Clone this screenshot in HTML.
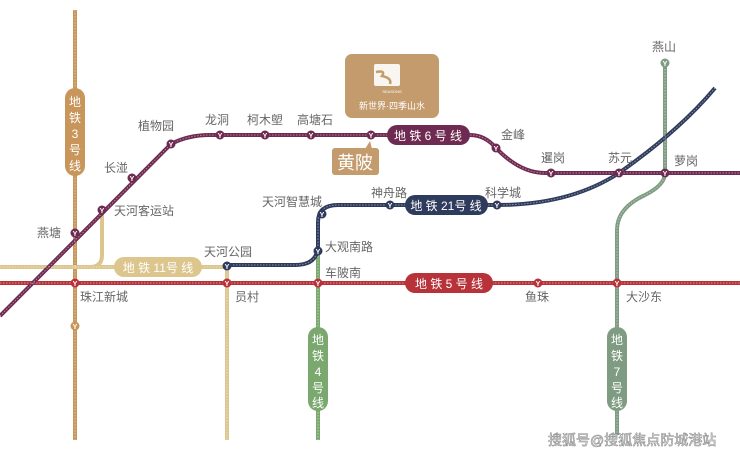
<!DOCTYPE html>
<html><head><meta charset="utf-8"><style>
body{margin:0;background:#fff;}
svg{display:block;font-family:"Liberation Sans","Noto Sans CJK SC",sans-serif;}
.l{font-size:12px;fill:#666;}
.p{font-size:12px;fill:#fff;}
</style></head><body>
<svg width="740" height="457" viewBox="0 0 740 457">
<defs>
<g id="st"><circle r="4.5"/><text y="3" text-anchor="middle" font-size="7" fill="#fff" font-weight="bold">Y</text></g>
</defs>
<g fill="none" stroke-width="4">
<!-- line 3 -->
<path d="M75 10V440" stroke="#c8955a"/>
<!-- line 11 -->
<path d="M0 267H227" stroke="#dcc68e"/>
<path d="M102 210V255Q102 267 90 267H75" stroke="#dcc68e"/>
<path d="M227 267V440" stroke="#dcc68e"/>
<!-- line 4 -->
<path d="M318 250V440" stroke="#7aa86e"/>
<!-- line 7 -->
<path d="M665 63V173Q665 185 645 195Q617 208 617 230V435" stroke="#7f9c82"/>
<!-- line 5 -->
<path d="M0 283H740" stroke="#b8323a"/>
<!-- line 21 -->
<path d="M227 265H295Q318 265 318 245V222Q318 205 338 205H497Q570 205 619 173Q680 130 715 88" stroke="#2f3b5c"/>
<!-- line 6 -->
<path d="M0 316L171 144Q188 135 210 135H470Q485 135 496 148Q520 173 545 173H740" stroke="#6e2a50"/>
</g>
<g fill="none" stroke="#fff" stroke-opacity=".45" stroke-width="1" stroke-dasharray="1.5 1.5">
<path d="M75 10V440"/><path d="M0 267H227"/><path d="M227 267V440"/><path d="M318 250V440"/>
<path d="M665 63V173Q665 185 645 195Q617 208 617 230V435"/><path d="M0 283H740"/>
<path d="M227 265H295Q318 265 318 245V222Q318 205 338 205H497Q570 205 619 173Q680 130 715 88"/>
<path d="M0 316L171 144Q188 135 210 135H470Q485 135 496 148Q520 173 545 173H740"/>
</g>
<!-- pills -->
<rect x="65" y="88" width="20" height="88" rx="10" fill="#c8955a"/>
<text class="p" x="75" y="106" text-anchor="middle">地</text><text class="p" x="75" y="122" text-anchor="middle">铁</text><text class="p" x="75" y="138" text-anchor="middle">3</text><text class="p" x="75" y="154" text-anchor="middle">号</text><text class="p" x="75" y="170" text-anchor="middle">线</text>
<rect x="114" y="257" width="88" height="20" rx="10" fill="#dcc68e"/><text class="p" x="158" y="272" text-anchor="middle">地 铁 11号 线</text>
<rect x="387" y="125" width="83" height="20" rx="10" fill="#6e2a50"/><text class="p" x="428" y="140" text-anchor="middle">地 铁 6 号 线</text>
<rect x="405" y="195" width="83" height="20" rx="10" fill="#2f3b5c"/><text class="p" x="446" y="210" text-anchor="middle">地 铁 21号 线</text>
<rect x="405" y="273" width="88" height="20" rx="10" fill="#b8323a"/><text class="p" x="449" y="288" text-anchor="middle">地 铁 5 号 线</text>
<rect x="308" y="327" width="20" height="84" rx="10" fill="#7aa86e"/>
<text class="p" x="318" y="344" text-anchor="middle">地</text><text class="p" x="318" y="360" text-anchor="middle">铁</text><text class="p" x="318" y="376" text-anchor="middle">4</text><text class="p" x="318" y="392" text-anchor="middle">号</text><text class="p" x="318" y="407" text-anchor="middle">线</text>
<rect x="607" y="327" width="20" height="84" rx="10" fill="#7f9c82"/>
<text class="p" x="617" y="344" text-anchor="middle">地</text><text class="p" x="617" y="360" text-anchor="middle">铁</text><text class="p" x="617" y="376" text-anchor="middle">7</text><text class="p" x="617" y="392" text-anchor="middle">号</text><text class="p" x="617" y="407" text-anchor="middle">线</text>
<!-- logo -->
<rect x="345" y="54" width="94" height="64" rx="7" fill="#c39b6c"/>
<rect x="374" y="64" width="26" height="22" rx="2" fill="#fff" opacity=".9"/>
<path d="M376 72Q386 70 382 76Q392 78 390 84" stroke="#c39b6c" stroke-width="2.5" fill="none"/>
<text x="392" y="93" font-size="4" fill="#fff" text-anchor="middle">SEASONS</text>
<text x="392" y="109" font-size="9" fill="#fff" text-anchor="middle">新世界·四季山水</text>
<!-- 黄陂 callout -->
<rect x="332" y="148" width="47" height="27" rx="3" fill="#c39b6c"/>
<path d="M365 149L370 141L372 149Z" fill="#c39b6c"/>
<text x="355" y="169" font-size="18" fill="#fff" text-anchor="middle">黄陂</text>
<!-- stations -->
<g fill="#6e2a50"><use href="#st" x="75" y="233"/><use href="#st" x="102" y="210"/><use href="#st" x="132" y="178"/><use href="#st" x="171" y="144"/><use href="#st" x="220" y="135"/><use href="#st" x="265" y="135"/><use href="#st" x="311" y="135"/><use href="#st" x="371" y="135"/><use href="#st" x="496" y="148"/><use href="#st" x="551" y="173"/><use href="#st" x="619" y="173"/><use href="#st" x="665" y="173"/></g>
<g fill="#2f3b5c"><use href="#st" x="227" y="266"/><use href="#st" x="318" y="251"/><use href="#st" x="322" y="214"/><use href="#st" x="390" y="205"/><use href="#st" x="497" y="205"/></g>
<g fill="#b8323a"><use href="#st" x="75" y="283"/><use href="#st" x="227" y="283"/><use href="#st" x="318" y="283"/><use href="#st" x="538" y="283"/><use href="#st" x="617" y="283"/></g>
<g fill="#c8955a"><use href="#st" x="75" y="326"/></g>
<g fill="#7f9c82"><use href="#st" x="665" y="63"/></g>
<!-- labels -->
<text class="l" x="37" y="237">燕塘</text>
<text class="l" x="114" y="215">天河客运站</text>
<text class="l" x="104" y="172">长湴</text>
<text class="l" x="138" y="130">植物园</text>
<text class="l" x="205" y="124">龙洞</text>
<text class="l" x="247" y="124">柯木塱</text>
<text class="l" x="297" y="124">高塘石</text>
<text class="l" x="501" y="139">金峰</text>
<text class="l" x="541" y="162">暹岗</text>
<text class="l" x="608" y="162">苏元</text>
<text class="l" x="674" y="165">萝岗</text>
<text class="l" x="652" y="51">燕山</text>
<text class="l" x="262" y="206">天河智慧城</text>
<text class="l" x="371" y="197">神舟路</text>
<text class="l" x="485" y="197">科学城</text>
<text class="l" x="325" y="251">大观南路</text>
<text class="l" x="204" y="256">天河公园</text>
<text class="l" x="325" y="277">车陂南</text>
<text class="l" x="80" y="301">珠江新城</text>
<text class="l" x="235" y="301">员村</text>
<text class="l" x="525" y="301">鱼珠</text>
<text class="l" x="626" y="301">大沙东</text>
<text x="548" y="445" font-size="14" fill="#fff" stroke="#888" stroke-width=".6">搜狐号@搜狐焦点防城港站</text>
</svg>
</body></html>
